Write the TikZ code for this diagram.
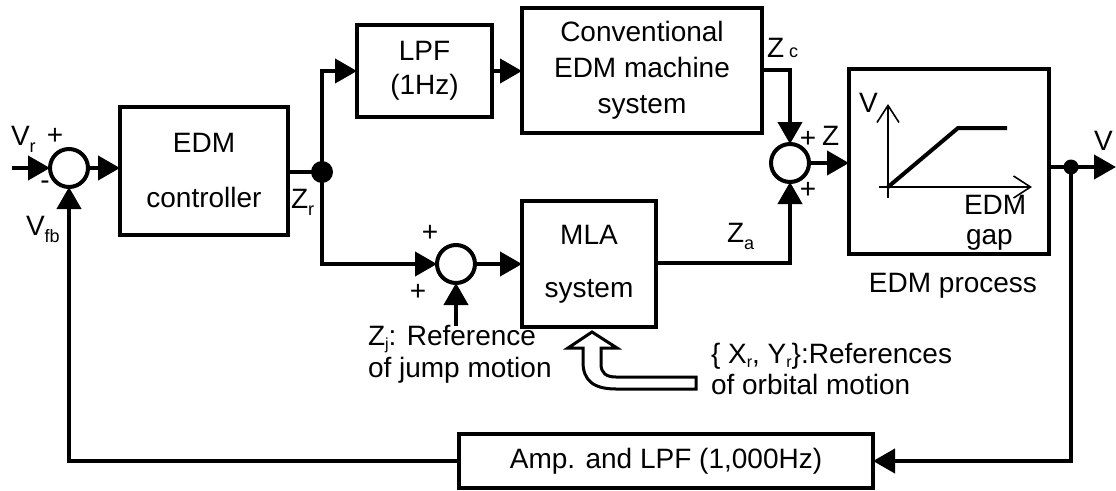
\documentclass[tikz,border=0pt]{standalone}
\usepackage{fontspec}
\setmainfont{Liberation Sans}
\usetikzlibrary{arrows.meta}
\newcommand{\lsub}[1]{\raisebox{-7pt}{\fontsize{18}{18}\selectfont #1}}
\newcommand{\ssub}[1]{\raisebox{-4pt}{\fontsize{16}{16}\selectfont #1}}
\begin{document}
\begin{tikzpicture}[x=1pt,y=-1pt,
  line width=4pt,
  every node/.style={font=\fontsize{28}{32}\selectfont, inner sep=0pt, outer sep=0pt},
  blk/.style={draw, rectangle, line width=4pt, align=center},
  sumc/.style={draw, circle, minimum size=38pt, line width=4pt},
  dotbig/.style={fill, circle, minimum size=22pt},
  dotsmall/.style={fill, circle, minimum size=15pt},
  arr/.style={-{Triangle[length=22pt,width=24pt]}},
  thinax/.style={line width=1.6pt, -{Straight Barb[length=17pt,width=22pt,line width=1.6pt]}}
]
\useasboundingbox (0,0) rectangle (1116,490);

% blocks
\node[blk, minimum width=168pt, minimum height=128pt, font=\fontsize{28}{55}\selectfont] (ctrl) at (204,171) {EDM\\controller};
\node[blk, minimum width=135pt, minimum height=92pt, font=\fontsize{28}{34}\selectfont] (lpf) at (424.5,71) {LPF\\(1Hz)};
\node[blk, minimum width=240pt, minimum height=125pt, font=\fontsize{28}{36}\selectfont] (conv) at (642,70.5) {Conventional\\EDM machine\\system};
\node[blk, minimum width=134pt, minimum height=126pt, font=\fontsize{28}{53}\selectfont] (mla) at (589,264) {MLA\\system};
\node[blk, minimum width=200pt, minimum height=185pt] (proc) at (949,161.5) {};
\node[blk, minimum width=414pt, minimum height=54pt] (amp) at (666,461) {Amp. and LPF (1,000Hz)};

% summing junctions
\node[sumc] (c1) at (69,168) {};
\node[sumc] (c2) at (790,163) {};
\node[sumc] (c3) at (456,264) {};

% branch dots
\node[dotbig] (j1) at (322,172) {};
\node[dotsmall] (j2) at (1071,167) {};

% free ends
\coordinate (in) at (12,168);
\coordinate (out) at (1116,167);
\coordinate (zj) at (456,326);

% connectors
\draw[arr] (in) -- (c1.west);
\draw[arr] (c1.east) -- (c1.east -| ctrl.west);
\draw (ctrl.east |- j1) -- (j1.center);
\draw[arr] (j1.center) |- (lpf.west);
\draw[arr] (lpf.east) -- (lpf.east -| conv.west);
\draw[arr] (conv.east |- 0,70) -| (c2.north);
\draw[arr] (c2.east) -- (c2.east -| proc.west);
\draw (proc.east |- j2) -- (j2.center);
\draw[arr] (j2.center) -- (out);
\draw[arr] (j2.center) |- (amp.east);
\draw[arr] (amp.west) -| (c1.south);
\draw[arr] (j1.center) |- (c3.west);
\draw[arr] (c3.east) -- (c3.east -| mla.west);
\draw[arr] (mla.east |- 0,263) -| (c2.south);
\draw[arr] (zj) -- (c3.south);

% hollow arrow (orbital references)
\draw[line width=3pt, line join=miter] (592,332) -- (617,348) -- (601,348) -- (601,364)
  .. controls (601,373) and (606,377) .. (616,377) -- (696,377) -- (696,389) -- (616,389)
  .. controls (593,389) and (583,380) .. (583,362) -- (583,348) -- (568,348) -- cycle;

% graph inside EDM process
\draw[thinax] (888,198) -- (888,104);
\draw[thinax] (879,187) -- (1032,187);
\draw[line width=4pt] (888,187) -- (958,128) -- (1007,128);
\node[anchor=base west] (gv) at (859,112) {V};
\node[anchor=base west] (gedm) at (964,214) {EDM};
\node[anchor=base west] (ggap) at (966,244) {gap};
\node[anchor=base] (lproc) at (953,292) {EDM process};

% signal labels
\node[anchor=base west] (lvr) at (11,145) {V\lsub{r}};
\node (lp1) at (55,136) {+};
\node (lm1) at (45,185) {-};
\node[anchor=base west] (lvfb) at (26,235) {V\lsub{fb}};
\node[anchor=base west] (lzr) at (291,208) {Z\lsub{r}};
\node[anchor=base west] (lzc) at (767,57) {Z\hspace{5pt}{\fontsize{18}{18}\selectfont c}};
\node (lp2a) at (808,139) {+};
\node (lp2b) at (808,190) {+};
\node[anchor=base west] (lz) at (822,145) {Z};
\node[anchor=base west] (lza) at (727,242) {Z\lsub{a}};
\node (lp3a) at (430,233) {+};
\node (lp3b) at (418,292) {+};
\node[anchor=base west] (lzj1) at (368,345) {Z\ssub{j}: Reference};
\node[anchor=base west] (lzj2) at (368,377) {of jump motion};
\node[anchor=base west] (lxy1) at (711,363) {\{ X\ssub{r}, Y\ssub{r}\}:References};
\node[anchor=base west] (lxy2) at (711,394) {of orbital motion};
\node[anchor=base west] (lv) at (1094,150) {V};
\end{tikzpicture}
\end{document}
